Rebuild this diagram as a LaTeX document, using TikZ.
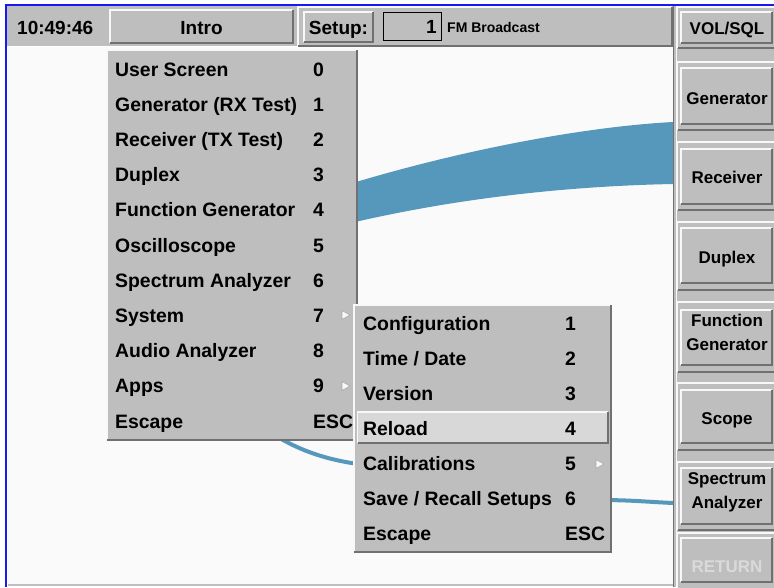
\documentclass[tikz,border=0pt]{standalone}
\usepackage{fontspec}
\setmainfont{Liberation Sans}
\definecolor{guigray}{RGB}{190,190,190}
\definecolor{guidark}{RGB}{112,112,112}
\definecolor{guihi}{RGB}{248,248,248}
\definecolor{guisel}{RGB}{216,216,216}
\definecolor{trace}{RGB}{86,152,188}
\definecolor{frameblue}{RGB}{24,24,240}
\definecolor{ghost}{RGB}{218,218,218}

% raised 3D panel: [fill] x1 y1 x2 y2 (pixel coordinates, y downwards)
\newcommand\raisedpanel[5][guigray]{%
  \fill[#1] (#2,#3) rectangle (#4,#5);
  \draw[guihi,line width=1.5] (#2,#5) -- (#2,#3) -- (#4,#3);
  \draw[guidark,line width=1.5] (#2,#5) -- (#4,#5) -- (#4,#3);
}
% soft key: thicker highlight
\newcommand\softkey[4]{%
  \fill[guigray] (#1,#2) rectangle (#3,#4);
  \draw[guihi,line width=2.2] (#1,#4) -- (#1,#2) -- (#3,#2);
  \draw[guidark,line width=1.6] (#1,#4) -- (#3,#4) -- (#3,#2);
}
% small submenu pointer
\newcommand\subarrow[2]{%
  \filldraw[fill=guihi,draw=guidark!60,line width=0.6] (#1,#2-4.5) -- (#1+8,#2) -- (#1,#2+4.5) -- cycle;
}

\begin{document}
\begin{tikzpicture}[x=1pt,y=-1pt,
  menutxt/.style={anchor=base west,inner sep=0pt,font=\fontsize{19.4}{19}\selectfont\bfseries},
  headtxt/.style={anchor=base,inner sep=0pt,font=\fontsize{19}{19}\selectfont\bfseries},
  keytxt/.style={anchor=base,inner sep=0pt,align=center,font=\fontsize{17}{24}\selectfont\bfseries},
  smalltxt/.style={anchor=base west,inner sep=0pt,font=\fontsize{14}{14}\selectfont\bfseries},
  trace line/.style={trace,line width=4,line cap=round}]

\useasboundingbox (0,0) rectangle (774,587);
\fill[white] (0,0) rectangle (774,587);

% ---------- measurement area ----------
\fill[white!98!black] (8,47) rectangle (673,585);
\draw[guigray,line width=1.5] (8,585) -- (673,585);

% wide trace band
\fill[trace] (330,190) .. controls (450,152) and (580,127) .. (673,122)
  -- (673,184) .. controls (570,186) and (450,198) .. (330,228) -- cycle;
% thin trace
\draw[trace line] (270,432) .. controls (300,452) and (330,460) .. (358,464);
\draw[trace line,line cap=butt] (600,500) .. controls (630,500) and (650,502) .. (673,503);

% ---------- header ----------
\fill[guigray] (7,6) rectangle (774,46);
\node[anchor=base west,inner sep=0pt,font=\fontsize{19}{19}\selectfont\bfseries] (clock) at (17,34) {10:49:46};
\raisedpanel{110}{10}{293}{43}
\node[headtxt] (intro) at (201.5,34) {Intro};
\raisedpanel{298}{7}{672}{46}
\raisedpanel{304}{12}{373}{42}
\node[headtxt] (setup) at (338.5,34) {Setup:};
\draw[black,line width=1] (383,12.5) rectangle (441,40);
\node[anchor=base east,inner sep=0pt,font=\fontsize{19}{19}\selectfont\bfseries] (setupno) at (437,33) {1};
\node[smalltxt] (setupname) at (447,32) {FM Broadcast};

% ---------- soft key column ----------
\fill[guigray] (674,6) rectangle (774,587);
\draw[guidark,line width=1.2] (673.5,6) -- (673.5,587);
\draw[guihi,line width=1.2] (676.5,6) -- (676.5,587);
\foreach \t/\b in {7/48,62/130,142/210,222/290,302/372,383/450,462/530,533/590}
  \raisedpanel{677.5}{\t}{776}{\b}
\softkey{681}{12}{772}{43}
\softkey{681}{68}{772}{124}
\softkey{681}{149}{772}{204}
\softkey{681}{228}{772}{283}
\softkey{681}{310}{772}{365}
\softkey{681}{390}{772}{443}
\softkey{681}{468}{772}{524}
\softkey{681}{538}{772}{582}
% two-line labels are placed by the baseline of their last line
\node[keytxt] (kvol)  at (727,34)  {VOL/SQL};
\node[keytxt] (kgen)  at (727,104) {Generator};
\node[keytxt] (krec)  at (727,183) {Receiver};
\node[keytxt] (kdup)  at (727,263) {Duplex};
\node[keytxt] (kfg)   at (727,350) {Function\\Generator};
\node[keytxt] (kscp)  at (727,424) {Scope};
\node[keytxt] (ksa)   at (727,508) {Spectrum\\Analyzer};
\node[keytxt,text=ghost] (kret) at (727,572) {RETURN};

% ---------- main menu ----------
\raisedpanel{107}{50}{357}{440}
\foreach \lbl/\num [count=\i from 0] in
  {User Screen/0, Generator (RX Test)/1, Receiver (TX Test)/2, Duplex/3,
   Function Generator/4, Oscilloscope/5, Spectrum Analyzer/6, System/7,
   Audio Analyzer/8, Apps/9, Escape/ESC}{
  \node[menutxt] (m\i)  at (115,76+35.2*\i) {\lbl};
  \node[menutxt] (mn\i) at (313,76+35.2*\i) {\num};
}
\subarrow{342}{315}
\subarrow{342}{386}

% ---------- System submenu ----------
\raisedpanel{354}{305}{611}{552}
\raisedpanel[guisel]{357.5}{412}{608}{443}
\foreach \lbl/\num [count=\i from 0] in
  {Configuration/1, {Time / Date}/2, Version/3, Reload/4,
   Calibrations/5, {Save / Recall Setups}/6, Escape/ESC}{
  \node[menutxt] (s\i)  at (363,330+35*\i) {\lbl};
  \node[menutxt] (sn\i) at (565,330+35*\i) {\num};
}
\subarrow{596}{464}

% ---------- frame ----------
\draw[frameblue,line width=2] (5.5,587) -- (5.5,4.5) -- (774,4.5);
\end{tikzpicture}
\end{document}
